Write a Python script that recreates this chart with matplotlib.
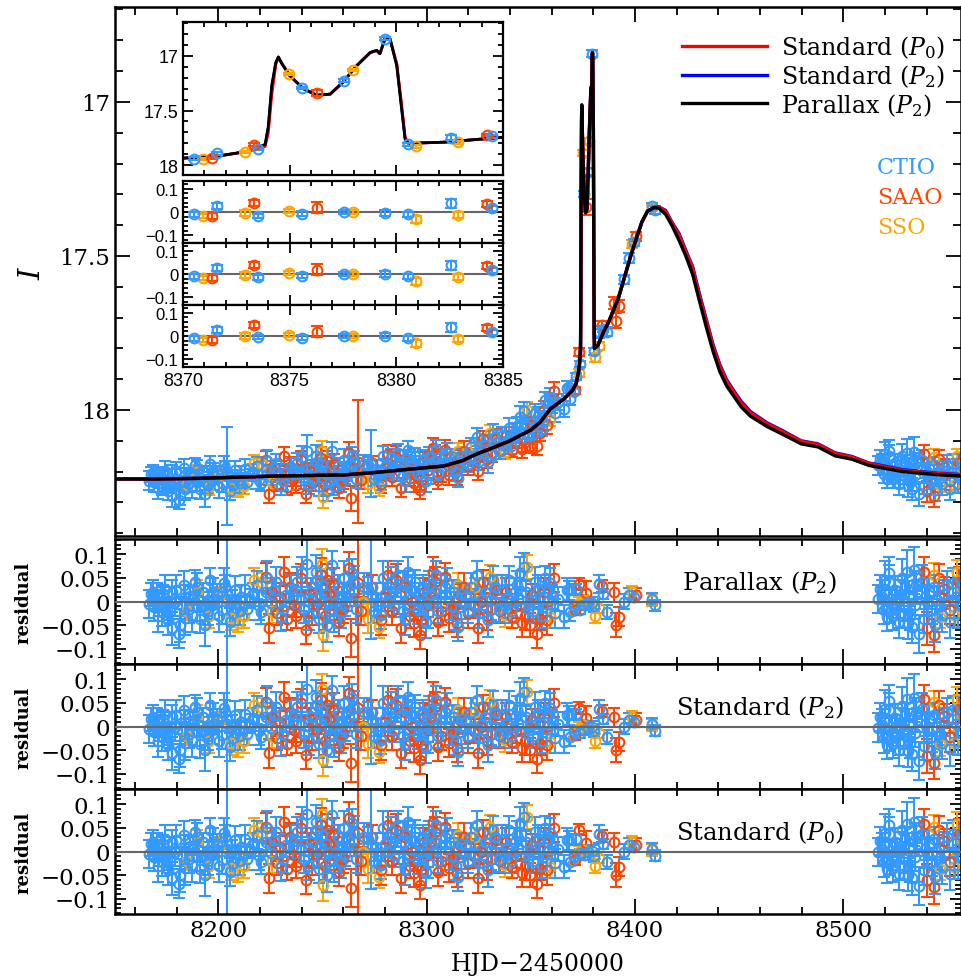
import numpy as np
import matplotlib
matplotlib.use('Agg')
import matplotlib.pyplot as plt
from matplotlib.ticker import MultipleLocator, FuncFormatter

plt.rcParams['mathtext.fontset'] = 'dejavuserif'
plt.rcParams['font.family'] = ['DejaVu Serif']

# ---- model light curves (HJD-2450000, I mag) ----
model_t = [8148, 8170, 8190, 8210, 8230, 8250, 8260, 8275, 8292, 8308,
           8317, 8324, 8332, 8340, 8345, 8350, 8354.4, 8359.3, 8365.9,
           8370.0, 8371.7, 8373.0, 8373.85, 8374.0, 8374.16, 8374.35, 8374.47, 8374.63,
           8375.0, 8375.64, 8376.27, 8376.9, 8377.5, 8378.14, 8378.77, 8379.08, 8379.23,
           8379.47, 8379.7, 8380.02, 8380.25, 8380.41, 8380.56, 8382.2, 8385.0,
           8387.0, 8391.9, 8398.4, 8403.3, 8406.0, 8409.0,
           8411.5, 8414.7, 8417.8, 8421.2, 8424.4, 8427.7, 8430.9, 8434.2,
           8437.5, 8440.7, 8444.0, 8447.2, 8451.0, 8455.4, 8463.5,
           8470.0, 8479.8, 8487.9, 8496.1, 8504.2, 8512.3, 8528.6, 8544.9, 8560.0]

model_par = [18.224, 18.224, 18.222, 18.218, 18.214, 18.212, 18.211, 18.203, 18.192, 18.182,
             18.165, 18.143, 18.122, 18.100, 18.082, 18.065, 18.040, 17.997, 17.964,
             17.936, 17.915, 17.874, 17.810, 17.640, 17.270, 17.060, 17.010, 17.070,
             17.180, 17.300, 17.360, 17.350, 17.240, 17.090, 16.970, 16.950, 16.980,
             16.840, 16.840, 17.090, 17.490, 17.760, 17.800, 17.790, 17.745,
             17.720, 17.640, 17.490, 17.390, 17.355, 17.343,
             17.345, 17.365, 17.402, 17.450, 17.500, 17.560, 17.645, 17.730,
             17.810, 17.875, 17.922, 17.953, 17.990, 18.020, 18.054,
             18.076, 18.110, 18.120, 18.149, 18.160, 18.180, 18.200, 18.210, 18.216]

model_std2 = [18.224, 18.224, 18.222, 18.218, 18.214, 18.212, 18.211, 18.203, 18.192, 18.182,
              18.165, 18.143, 18.122, 18.100, 18.082, 18.065, 18.040, 17.997, 17.964,
              17.936, 17.915, 17.874, 17.815, 17.660, 17.290, 17.065, 17.010, 17.068,
              17.180, 17.300, 17.360, 17.350, 17.240, 17.090, 16.970, 16.950, 16.980,
              16.842, 16.842, 17.080, 17.475, 17.755, 17.800, 17.790, 17.745,
              17.720, 17.640, 17.490, 17.390, 17.355, 17.343,
              17.341, 17.352, 17.391, 17.428, 17.482, 17.535, 17.622, 17.705,
              17.788, 17.852, 17.902, 17.935, 17.972, 18.005, 18.042,
              18.064, 18.100, 18.110, 18.139, 18.151, 18.172, 18.194, 18.205, 18.211]

model_std0 = [18.224, 18.224, 18.222, 18.218, 18.214, 18.212, 18.211, 18.203, 18.192, 18.182,
              18.165, 18.143, 18.122, 18.100, 18.082, 18.065, 18.040, 17.997, 17.964,
              17.936, 17.915, 17.876, 17.830, 17.700, 17.360, 17.080, 17.015, 17.068,
              17.180, 17.300, 17.360, 17.350, 17.240, 17.090, 16.970, 16.950, 16.980,
              16.845, 16.845, 17.070, 17.450, 17.740, 17.800, 17.790, 17.745,
              17.720, 17.640, 17.490, 17.390, 17.355, 17.343,
              17.342, 17.355, 17.394, 17.433, 17.487, 17.540, 17.628, 17.710,
              17.794, 17.857, 17.907, 17.939, 17.977, 18.009, 18.045,
              18.067, 18.102, 18.112, 18.141, 18.153, 18.174, 18.196, 18.206, 18.212]

# ---- data: time, residual w.r.t. parallax model (brighter = positive), error ----
ctio_t = [8168.8, 8169.0, 8169.5, 8170.4, 8171.5, 8172.8, 8173.5, 8174.4,
          8175.2, 8176.0, 8177.6, 8178.0, 8179.3, 8180.9, 8181.7, 8182.5,
          8183.3, 8184.1, 8185.7, 8186.5, 8187.3, 8188.9, 8189.6, 8190.5,
          8191.3, 8192.5, 8193.7, 8195.0, 8196.1, 8196.9, 8198.0, 8199.4,
          8201.8, 8203.0, 8204.2, 8205.8, 8207.0, 8208.2, 8209.8, 8211.0,
          8213.0, 8214.0, 8215.4, 8218.6, 8220.3, 8222.7, 8225.1, 8227.5,
          8229.9, 8232.3, 8234.7, 8237.9, 8239.5, 8241.1, 8242.7, 8244.4,
          8245.5, 8246.8, 8248.4, 8249.0, 8250.0, 8252.4, 8253.5, 8254.8,
          8256.4, 8257.5, 8258.8, 8260.4, 8261.0, 8262.0, 8263.0, 8264.4,
          8266.0, 8271.7, 8273.3, 8275.7, 8276.5, 8278.1, 8280.0, 8282.9,
          8284.5, 8285.0, 8286.2, 8287.8, 8288.5, 8289.4, 8291.0, 8292.6,
          8293.0, 8294.2, 8295.8, 8297.0, 8298.2, 8299.8, 8301.0, 8302.2,
          8304.7, 8305.5, 8307.1, 8309.0, 8311.5, 8313.0, 8315.2, 8316.5,
          8318.4, 8320.0, 8321.5, 8323.0, 8324.0, 8326.4, 8328.0, 8329.6,
          8331.0, 8332.0, 8334.5, 8336.0, 8337.5, 8339.3, 8340.5, 8342.5,
          8344.0, 8344.9, 8346.5, 8347.5, 8349.0, 8351.0, 8352.1, 8354.5,
          8356.0, 8357.0, 8358.6, 8360.0, 8361.8, 8365.8, 8367.4, 8368.2,
          8369.0, 8370.53, 8371.58, 8373.53, 8375.59, 8377.56, 8379.48, 8380.56,
          8382.55, 8384.5, 8386.7, 8394.7, 8397.1, 8399.6, 8408.4, 8409.5,
          8517.7, 8518.5, 8519.3, 8520.0, 8520.9, 8521.7, 8522.5, 8523.3,
          8524.9, 8525.7, 8526.5, 8527.3, 8528.1, 8528.9, 8529.7, 8530.5,
          8531.4, 8532.2, 8533.0, 8533.8, 8534.6, 8535.4, 8536.2, 8537.8,
          8538.6, 8539.4, 8541.0, 8542.6, 8543.5, 8545.0, 8546.2, 8547.4,
          8549.8, 8551.4, 8553.9, 8556.3, 8557.9,
          8166.5, 8167.5, 8171.0, 8174.0, 8177.0, 8179.8, 8183.8, 8187.8,
          8190.0, 8194.2, 8197.5, 8200.2, 8202.5, 8206.5, 8210.5, 8216.5,
          8219.5, 8223.5, 8226.5, 8231.0, 8236.0, 8240.0, 8243.5, 8247.5,
          8251.5, 8255.5, 8259.5, 8265.0, 8270.0, 8274.5, 8279.0, 8281.5,
          8290.0, 8296.5, 8300.5, 8303.5, 8310.0, 8314.0, 8319.0, 8325.0,
          8333.0, 8338.5, 8343.5, 8348.5, 8353.5, 8355.5, 8359.0, 8363.0,
          8516.5, 8519.8, 8522.0, 8524.0, 8527.8, 8531.0, 8535.0, 8540.0,
          8544.2, 8548.5, 8552.5, 8555.0]
ctio_r = [0.020, -0.011, 0.005, 0.010, -0.005, -0.022, 0.015, 0.027,
          -0.015, -0.040, -0.057, 0.020, 0.000, -0.068, -0.050, -0.010,
          0.035, 0.010, -0.015, 0.012, -0.029, 0.042, -0.012, 0.003,
          -0.036, 0.020, -0.050, -0.020, 0.045, -0.008, 0.005, 0.013,
          -0.018, 0.030, 0.005, -0.043, -0.025, 0.024, -0.008, 0.010,
          0.027, -0.015, 0.006, 0.035, -0.022, 0.020, -0.004, 0.042,
          -0.032, 0.013, 0.027, 0.042, 0.005, -0.015, 0.080, 0.020,
          -0.010, 0.063, -0.036, 0.010, 0.035, -0.050, -0.020, 0.077,
          0.000, 0.030, -0.025, 0.050, -0.005, 0.010, 0.035, 0.060,
          -0.015, 0.027, 0.030, 0.010, -0.010, -0.029, 0.015, 0.042,
          -0.008, 0.030, 0.056, 0.020, -0.020, -0.036, 0.063, 0.006,
          0.025, 0.042, -0.018, 0.000, 0.027, -0.043, 0.035, 0.013,
          0.056, -0.020, 0.010, 0.030, -0.010, 0.020, -0.053, 0.015,
          -0.008, -0.020, 0.030, -0.005, 0.056, 0.006, 0.020, -0.040,
          -0.015, 0.045, -0.018, 0.025, -0.010, 0.045, -0.020, 0.020,
          0.005, 0.060, 0.073, 0.020, -0.008, -0.020, 0.042, 0.010,
          -0.012, 0.050, 0.027, 0.010, -0.025, -0.032, 0.024, 0.024,
          -0.022, -0.010, 0.026, -0.017, -0.007, 0.000, -0.003, -0.010,
          0.037, 0.016, -0.022, 0.000, 0.013, 0.010, 0.006, -0.008,
          0.027, 0.010, -0.018, 0.020, -0.032, 0.042, -0.020, -0.004,
          0.024, 0.005, -0.043, -0.025, 0.050, -0.011, 0.030, 0.063,
          0.013, -0.030, -0.053, 0.066, -0.008, 0.020, -0.068, 0.042,
          -0.036, 0.010, 0.020, -0.018, 0.030, 0.003, -0.010, -0.029,
          0.035, -0.043, 0.010, -0.008, 0.027,
          -0.005, 0.015, -0.030, 0.000, -0.020, 0.025, -0.035, 0.005,
          0.030, -0.015, 0.020, -0.030, 0.040, 0.000, -0.020, 0.015,
          -0.010, 0.050, 0.025, -0.015, 0.010, 0.060, -0.030, 0.045,
          0.015, -0.035, 0.005, 0.040, 0.030, -0.020, 0.050, 0.000,
          0.035, 0.015, -0.025, 0.020, 0.040, -0.030, 0.010, -0.025,
          0.030, 0.005, 0.035, -0.015, 0.025, -0.030, 0.040, 0.005,
          0.005, 0.045, 0.060, -0.030, 0.015, -0.045, 0.035, 0.000,
          -0.050, 0.015, 0.040, -0.025]
ctio_e = [0.025, 0.030, 0.020, 0.030, 0.025, 0.030, 0.020, 0.030,
          0.025, 0.030, 0.035, 0.025, 0.030, 0.030, 0.035, 0.020,
          0.030, 0.025, 0.030, 0.020, 0.035, 0.025, 0.030, 0.025,
          0.030, 0.020, 0.045, 0.030, 0.025, 0.030, 0.020, 0.025,
          0.030, 0.025, 0.160, 0.030, 0.025, 0.030, 0.020, 0.025,
          0.030, 0.025, 0.020, 0.030, 0.025, 0.030, 0.025, 0.030,
          0.030, 0.025, 0.030, 0.030, 0.025, 0.030, 0.050, 0.030,
          0.025, 0.035, 0.030, 0.025, 0.030, 0.035, 0.025, 0.030,
          0.030, 0.025, 0.030, 0.035, 0.025, 0.030, 0.025, 0.030,
          0.030, 0.025, 0.110, 0.030, 0.025, 0.030, 0.025, 0.030,
          0.025, 0.030, 0.030, 0.025, 0.030, 0.035, 0.030, 0.025,
          0.030, 0.025, 0.030, 0.025, 0.030, 0.035, 0.030, 0.025,
          0.030, 0.025, 0.030, 0.025, 0.030, 0.025, 0.030, 0.025,
          0.030, 0.025, 0.030, 0.025, 0.030, 0.025, 0.030, 0.035,
          0.025, 0.030, 0.025, 0.030, 0.025, 0.030, 0.025, 0.030,
          0.025, 0.035, 0.030, 0.025, 0.030, 0.025, 0.030, 0.025,
          0.030, 0.025, 0.030, 0.025, 0.030, 0.025, 0.025, 0.020,
          0.020, 0.012, 0.012, 0.010, 0.010, 0.010, 0.012, 0.012,
          0.020, 0.010, 0.015, 0.015, 0.015, 0.012, 0.012, 0.012,
          0.030, 0.035, 0.030, 0.025, 0.030, 0.035, 0.025, 0.030,
          0.030, 0.025, 0.035, 0.030, 0.040, 0.030, 0.025, 0.045,
          0.030, 0.030, 0.035, 0.050, 0.030, 0.025, 0.040, 0.035,
          0.030, 0.025, 0.030, 0.030, 0.025, 0.030, 0.025, 0.035,
          0.030, 0.035, 0.030, 0.030, 0.030,
          0.030, 0.025, 0.035, 0.030, 0.025, 0.030, 0.035, 0.025,
          0.030, 0.025, 0.030, 0.035, 0.030, 0.025, 0.030, 0.025,
          0.030, 0.035, 0.025, 0.030, 0.025, 0.035, 0.030, 0.030,
          0.025, 0.030, 0.025, 0.035, 0.030, 0.025, 0.035, 0.030,
          0.030, 0.025, 0.030, 0.025, 0.030, 0.030, 0.025, 0.030,
          0.025, 0.030, 0.030, 0.025, 0.030, 0.025, 0.030, 0.025,
          0.030, 0.040, 0.035, 0.030, 0.030, 0.035, 0.030, 0.030,
          0.035, 0.030, 0.030, 0.030]

saao_t = [8222.7, 8224.3, 8226.0, 8228.3, 8231.6, 8233.1, 8234.5, 8236.3,
          8239.5, 8241.9, 8243.5, 8245.1, 8247.5, 8249.2, 8251.0, 8253.2,
          8255.5, 8258.0, 8260.0, 8262.8, 8263.6, 8265.0, 8266.9, 8278.1,
          8281.3, 8283.5, 8287.8, 8289.5, 8291.8, 8294.0, 8296.6, 8298.5,
          8300.6, 8303.0, 8304.0, 8305.5, 8308.7, 8310.5, 8312.8, 8316.0,
          8318.0, 8320.0, 8322.5, 8324.8, 8327.2, 8331.2, 8335.0, 8338.0,
          8340.9, 8343.0, 8345.7, 8347.0, 8349.7, 8350.5, 8353.0, 8354.5,
          8356.5, 8358.0, 8361.0, 8371.37, 8373.33, 8376.3, 8384.23, 8389.9,
          8390.7, 8392.3, 8400.4, 8538.6, 8540.2, 8543.4, 8545.8, 8548.2,
          8551.4, 8555.5,
          8229.5, 8237.5, 8252.2, 8256.8, 8268.5, 8274.0, 8280.0, 8285.5,
          8293.0, 8297.5, 8302.0, 8307.0, 8314.5, 8326.0, 8329.0, 8333.5]
saao_r = [0.052, -0.057, 0.020, -0.025, 0.063, -0.036, 0.030, -0.008,
          0.050, -0.060, 0.015, -0.025, -0.005, 0.056, -0.030, 0.013,
          0.035, -0.043, -0.015, 0.070, -0.078, 0.020, 0.040, -0.040,
          0.056, -0.020, -0.057, 0.030, -0.030, -0.045, -0.070, 0.020,
          -0.008, 0.063, 0.042, -0.043, 0.052, -0.035, -0.015, 0.013,
          0.030, -0.025, -0.010, -0.057, 0.042, -0.015, -0.020, 0.020,
          -0.032, -0.010, -0.046, -0.030, -0.050, 0.013, -0.068, -0.036,
          0.020, -0.040, 0.050, -0.017, 0.037, 0.019, 0.033, 0.020,
          -0.050, -0.032, 0.013, 0.063, -0.057, -0.071, 0.050, 0.027,
          -0.018, 0.042,
          0.010, -0.030, 0.045, -0.010, -0.020, 0.030, 0.010, 0.045,
          0.000, -0.040, 0.020, -0.020, -0.045, 0.000, -0.030, 0.025]
saao_e = [0.030, 0.030, 0.030, 0.025, 0.030, 0.025, 0.030, 0.025,
          0.030, 0.030, 0.025, 0.025, 0.030, 0.035, 0.030, 0.030,
          0.035, 0.030, 0.030, 0.035, 0.040, 0.030, 0.200, 0.030,
          0.030, 0.030, 0.030, 0.035, 0.025, 0.030, 0.030, 0.030,
          0.025, 0.030, 0.030, 0.030, 0.030, 0.030, 0.025, 0.025,
          0.030, 0.030, 0.025, 0.030, 0.025, 0.030, 0.025, 0.030,
          0.025, 0.025, 0.030, 0.030, 0.025, 0.025, 0.030, 0.025,
          0.030, 0.030, 0.030, 0.012, 0.012, 0.025, 0.012, 0.020,
          0.025, 0.020, 0.015, 0.030, 0.035, 0.035, 0.030, 0.025,
          0.030, 0.030,
          0.030, 0.025, 0.035, 0.030, 0.030, 0.025, 0.030, 0.035,
          0.030, 0.030, 0.025, 0.030, 0.030, 0.025, 0.030, 0.030]

sso_t = [8185.0, 8190.0, 8195.5, 8200.5, 8206.0, 8209.5, 8212.5, 8217.0,
         8221.0, 8226.0, 8249.6, 8250.4, 8269.3, 8271.7, 8277.3, 8302.2,
         8315.2, 8323.2, 8330.4, 8337.7, 8348.1, 8359.4, 8370.95, 8372.9,
         8374.97, 8377.98, 8380.9, 8382.88, 8398.8, 8408.4, 8543.4, 8546.6,
         8553.1, 8554.7, 8557.1]
sso_r = [-0.020, 0.020, -0.030, 0.010, -0.035, -0.045, -0.030, 0.045,
         0.040, -0.020, 0.080, -0.070, 0.000, -0.036, -0.053, 0.013,
         0.035, 0.030, 0.052, -0.029, 0.073, -0.032, -0.017, -0.003,
         0.004, 0.000, -0.031, -0.013, 0.020, 0.003, 0.056, -0.032,
         -0.029, 0.063, 0.027]
sso_e = [0.020, 0.025, 0.025, 0.020, 0.025, 0.020, 0.025, 0.025,
         0.020, 0.025, 0.030, 0.035, 0.030, 0.030, 0.025, 0.020,
         0.025, 0.020, 0.025, 0.025, 0.025, 0.025, 0.010, 0.012,
         0.010, 0.010, 0.015, 0.012, 0.012, 0.012, 0.025, 0.025,
         0.025, 0.025, 0.020]

c_ctio = '#3399ff'
c_saao = '#ff4500'
c_sso = '#ffa500'

# draw order: SSO under SAAO under CTIO
sets = [(sso_t, sso_r, sso_e, c_sso),
        (saao_t, saao_r, saao_e, c_saao),
        (ctio_t, ctio_r, ctio_e, c_ctio)]


def mod(t, m):
    return np.interp(t, model_t, m)


def points(ax, t, y, e, c):
    ax.errorbar(t, y, yerr=e, fmt='o', ms=7, mfc='none', mec=c, mew=1.5,
                ecolor=c, elinewidth=1.5, capsize=4, capthick=1.5, zorder=2)


def style(ax, maj=11, mnr=5.5, lw=1.8):
    ax.tick_params(which='both', direction='in', top=True, right=True, width=1.3)
    ax.tick_params(which='major', length=maj)
    ax.tick_params(which='minor', length=mnr)
    for s in ax.spines.values():
        s.set_linewidth(lw)


fmt_num = FuncFormatter(lambda v, p: ('%g' % round(v, 6)).replace('-', '\u2212'))

fig = plt.figure(figsize=(9.62, 9.79), dpi=100)


def box(x0, y0, x1, y1):
    return fig.add_axes([x0 / 962, 1 - y1 / 979, (x1 - x0) / 962, (y1 - y0) / 979])


xlim = (8150.4, 8556.5)

# ---- main light curve ----
ax = box(115, 8, 961, 537)
for t, r, e, c in sets:
    t = np.array(t)
    mag = mod(t, model_par) - np.array(r)
    points(ax, t, mag, e, c)
h2, = ax.plot(model_t, model_std2, color='#0000ff', lw=2.4, zorder=3)
h0, = ax.plot(model_t, model_std0, color='#ff0000', lw=2.4, zorder=3)
hp, = ax.plot(model_t, model_par, color='black', lw=2.4, zorder=3)
ax.set_xlim(*xlim)
ax.set_ylim(18.409, 16.692)
ax.xaxis.set_major_locator(MultipleLocator(100))
ax.xaxis.set_minor_locator(MultipleLocator(20))
ax.yaxis.set_major_locator(MultipleLocator(0.5))
ax.yaxis.set_minor_locator(MultipleLocator(0.1))
ax.yaxis.set_major_formatter(fmt_num)
ax.tick_params(labelbottom=False, labelsize=16.5)
style(ax)
ax.set_ylabel(r'$I$', fontsize=21, rotation=90)
ax.yaxis.set_label_coords(-0.082, 0.5)
ax.legend([h0, h2, hp],
          ['Standard ($P_0$)', 'Standard ($P_2$)', 'Parallax ($P_2$)'],
          loc='upper right', bbox_to_anchor=(0.992, 0.968), frameon=False,
          fontsize=17, handlelength=3.6, handletextpad=0.6, labelspacing=0.08,
          borderaxespad=0)
for lab, c, yy in [('CTIO', c_ctio, 0.697), ('SAAO', c_saao, 0.641), ('SSO', c_sso, 0.584)]:
    ax.text(0.901, yy, lab, color=c, fontsize=16,
            transform=ax.transAxes, ha='left', va='center')

# ---- residual panels ----
rows = [(540, 665, model_par, 'Parallax ($P_2$)'),
        (665, 790, model_std2, 'Standard ($P_2$)'),
        (790, 915, model_std0, 'Standard ($P_0$)')]
for i, (y0, y1, m, lab) in enumerate(rows):
    a = box(115, y0, 961, y1)
    for t, r, e, c in sets:
        t = np.array(t)
        mag = mod(t, model_par) - np.array(r)
        points(a, t, mod(t, m) - mag, e, c)
    a.axhline(0, color='#666666', lw=1.5, zorder=5)
    a.set_xlim(*xlim)
    a.set_ylim(-0.132, 0.132)
    a.xaxis.set_major_locator(MultipleLocator(100))
    a.xaxis.set_minor_locator(MultipleLocator(20))
    a.yaxis.set_major_locator(MultipleLocator(0.05))
    a.yaxis.set_minor_locator(MultipleLocator(0.01))
    a.yaxis.set_major_formatter(fmt_num)
    a.xaxis.set_major_formatter(fmt_num)
    a.tick_params(labelsize=16.5)
    style(a, maj=11, mnr=5)
    a.tick_params(axis='y', which='major', length=8)
    a.tick_params(axis='y', which='minor', length=4)
    a.set_ylabel('residual', fontsize=13, fontweight='bold')
    a.yaxis.set_label_coords(-0.098, 0.5)
    a.text(0.762, 0.66, lab, fontsize=17.5, transform=a.transAxes,
           ha='center', va='center')
    if i < 2:
        a.tick_params(labelbottom=False)
    else:
        a.set_xlabel('HJD\u22122450000', fontsize=17, labelpad=8)

# ---- inset: caustic crossing ----
sans = 'Liberation Sans'
ins = box(183, 23, 503, 176)
ins.plot(model_t, model_std2, color='#0000ff', lw=2.0, zorder=1)
ins.plot(model_t, model_std0, color='#ff0000', lw=2.0, zorder=1)
ins.plot(model_t, model_par, color='black', lw=2.0, zorder=1)
for t, r, e, c in sets:
    t = np.array(t)
    mag = mod(t, model_par) - np.array(r)
    points(ins, t, mag, e, c)
ins.set_xlim(8370, 8385)
ins.set_ylim(18.09, 16.69)
ins.xaxis.set_major_locator(MultipleLocator(5))
ins.xaxis.set_minor_locator(MultipleLocator(1))
ins.yaxis.set_major_locator(MultipleLocator(0.5))
ins.yaxis.set_minor_locator(MultipleLocator(0.1))
ins.yaxis.set_major_formatter(fmt_num)
ins.tick_params(labelbottom=False)
style(ins, maj=7, mnr=3.5, lw=1.6)
for lbl in ins.get_yticklabels():
    lbl.set_family(sans)
    lbl.set_fontsize(13)

irows = [(182, 244, model_par), (244, 306, model_std2), (306, 368, model_std0)]
for i, (y0, y1, m) in enumerate(irows):
    a = box(183, y0, 503, y1)
    for t, r, e, c in sets:
        t = np.array(t)
        mag = mod(t, model_par) - np.array(r)
        points(a, t, mod(t, m) - mag, e, c)
    a.axhline(0, color='#666666', lw=1.5, zorder=1)
    a.set_xlim(8370, 8385)
    a.set_ylim(-0.132, 0.132)
    a.xaxis.set_major_locator(MultipleLocator(5))
    a.xaxis.set_minor_locator(MultipleLocator(1))
    a.yaxis.set_major_locator(MultipleLocator(0.1))
    a.yaxis.set_minor_locator(MultipleLocator(0.02))
    a.yaxis.set_major_formatter(fmt_num)
    a.xaxis.set_major_formatter(fmt_num)
    style(a, maj=7, mnr=3.5, lw=1.6)
    if i < 2:
        a.tick_params(labelbottom=False)
    for lbl in a.get_yticklabels():
        lbl.set_family(sans)
        lbl.set_fontsize(12)
    for lbl in a.get_xticklabels():
        lbl.set_family(sans)
        lbl.set_fontsize(13)

fig.savefig('out.png', dpi=100)
